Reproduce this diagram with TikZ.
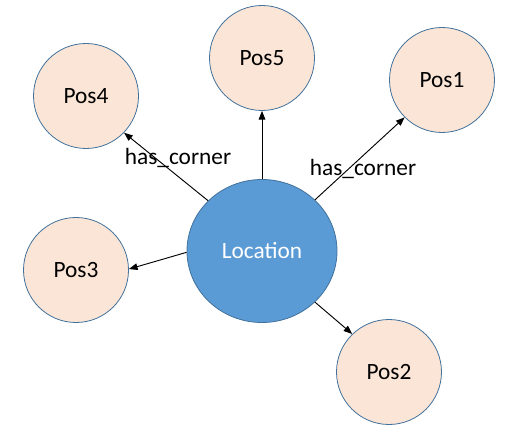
\documentclass[tikz,border=0pt]{standalone}
\usepackage{fontspec}
\setmainfont{Carlito}
\usetikzlibrary{shapes.geometric,arrows.meta}
\definecolor{locfill}{HTML}{5B9BD5}
\definecolor{locdraw}{HTML}{41719C}
\definecolor{posfill}{HTML}{FBE5D6}
\definecolor{posdraw}{HTML}{41719C}
\begin{document}
\begin{tikzpicture}[x=0.75pt,y=-0.75pt,
  posnode/.style={circle,draw=posdraw,fill=posfill,line width=0.6pt,minimum size=105*0.75pt,inner sep=0pt,font=\fontsize{17.5}{21}\selectfont},
  locnode/.style={ellipse,draw=locdraw,fill=locfill,line width=0.6pt,minimum width=150*0.75pt,minimum height=143*0.75pt,inner sep=0pt,text=white,font=\fontsize{17.5}{21}\selectfont},
  link/.style={draw=black,line width=0.7pt,-{Triangle[length=6.5pt,width=5pt]}},
  lab/.style={font=\fontsize{17.5}{21}\selectfont,inner sep=0pt}]
\useasboundingbox (0,0) rectangle (516,448);
\node[locnode] (loc) at (262,251) {Location};
\node[posnode] (p5) at (262,58) {Pos5};
\node[posnode] (p1) at (442,80) {Pos1};
\node[posnode] (p4) at (86,96) {Pos4};
\node[posnode] (p3) at (76,270) {Pos3};
\node[posnode] (p2) at (389,372) {Pos2};
\draw[link] (loc.137) -- (p4.-44);
\draw[link] (loc.90) -- (p5.-90);
\draw[link] (loc.44) -- (p1.225);
\draw[link] (loc.181) -- (p3.1);
\draw[link] (loc.-44.5) -- (p2.134);
\node[lab] (l1) at (178,158) {has\_corner};
\node[lab] (l2) at (363,169) {has\_corner};
\end{tikzpicture}
\end{document}
